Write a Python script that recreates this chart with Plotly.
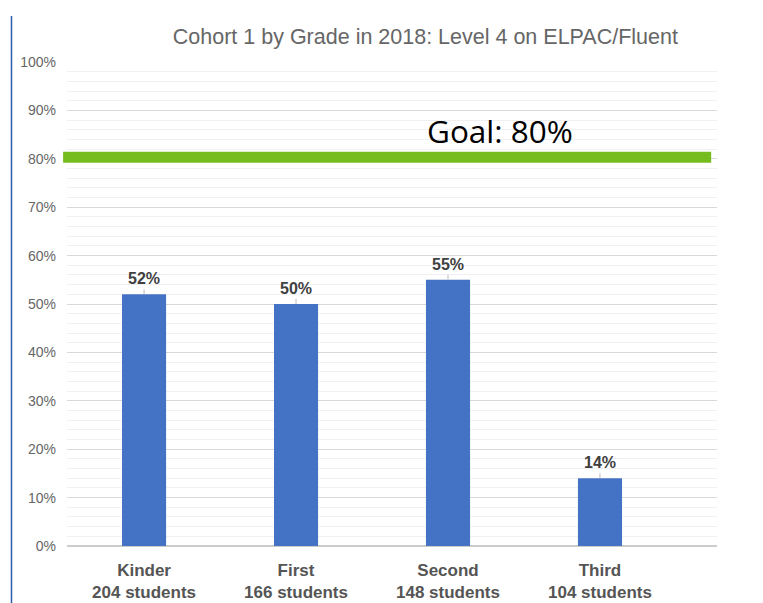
import plotly.graph_objects as go

categories = ["Kinder<br>204 students", "First<br>166 students", "Second<br>148 students", "Third<br>104 students"]
values = [52, 50, 55, 14]
value_labels = ["52%", "50%", "55%", "14%"]
goal_value = 80
goal_label = "Goal: 80%"
title_text = "Cohort 1 by Grade in 2018: Level 4 on ELPAC/Fluent"
y_ticks = [0, 10, 20, 30, 40, 50, 60, 70, 80, 90, 100]

fig = go.Figure()
fig.add_trace(go.Bar(
    x=list(range(len(categories))), y=values,
    marker=dict(color="#4472c4", line=dict(width=0)),
    width=0.29, hoverinfo="skip",
))

for i, (v, lab) in enumerate(zip(values, value_labels)):
    fig.add_annotation(
        x=i, y=v, text="<b>" + lab + "</b>", showarrow=True, arrowhead=0,
        arrowwidth=0.8, arrowcolor="#aaaaaa", ax=0, ay=-5, standoff=0,
        font=dict(family="Liberation Sans, Arial", size=16, color="#404040"),
        yanchor="bottom",
    )

# goal line
fig.add_shape(type="line", xref="paper", yref="y", x0=-0.006, x1=0.991,
              y0=goal_value + 0.3, y1=goal_value + 0.3,
              line=dict(color="#77bc1f", width=11), layer="above")
fig.add_annotation(xref="paper", yref="y", x=0.666, y=goal_value + 5.8,
                   text=goal_label, showarrow=False,
                   font=dict(family="Open Sans", size=31.5, color="#000000"))

# left blue rule
fig.add_shape(type="line", xref="paper", yref="paper", x0=-0.0854, x1=-0.0854,
              y0=1.095, y1=-0.2, line=dict(color="#2a5db0", width=1.5))

fig.update_layout(
    width=763, height=603,
    margin=dict(l=59, r=54, t=54, b=65),
    paper_bgcolor="white", plot_bgcolor="white",
    showlegend=False,
    title=dict(text=title_text, x=0.547, xanchor="center", y=0.9536, yanchor="middle",
               font=dict(family="Liberation Sans, Arial", size=21.5, color="#666666")),
    xaxis=dict(
        tickmode="array", tickvals=list(range(len(categories))), ticktext=["<b>" + c + "</b>" for c in categories],
        range=[-0.507, 3.77], showgrid=False, zeroline=False, showline=False, ticks="",
        tickfont=dict(family="Liberation Sans, Arial", size=17, color="#555555"),
        ticklabelstandoff=12, automargin=False,
    ),
    yaxis=dict(
        range=[0, 100], tickvals=y_ticks, ticktext=[f"{t}%" for t in y_ticks],
        showgrid=True, gridcolor="#d9d9d9", gridwidth=1, zeroline=True, zerolinecolor="#cccccc",
        zerolinewidth=1.5, showline=False, ticks="",
        tickfont=dict(family="Liberation Sans, Arial", size=14, color="#666666"),
        ticklabelstandoff=10, automargin=False,
        minor=dict(dtick=2, showgrid=True, gridcolor="#f0f0f0", gridwidth=1),
    ),
)

fig.write_html("out.html")
